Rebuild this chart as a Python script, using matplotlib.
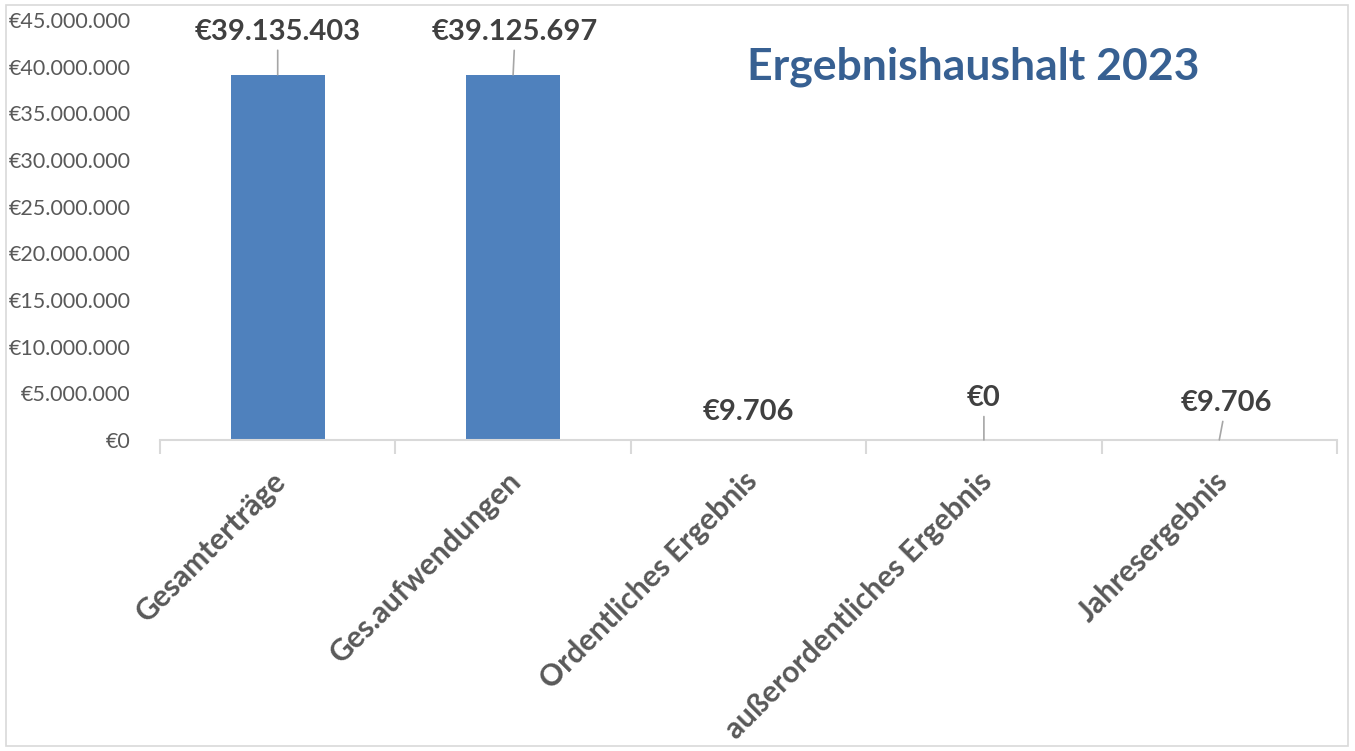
import matplotlib
matplotlib.use("Agg")
import matplotlib.pyplot as plt
from matplotlib.patches import Rectangle
from matplotlib.transforms import ScaledTranslation
from matplotlib.ticker import FuncFormatter, MultipleLocator, FixedLocator

plt.rcParams['font.family'] = ['Lato', 'DejaVu Sans']

# Daten
kategorien = ["Gesamterträge", "Ges.aufwendungen", "Ordentliches Ergebnis",
              "außerordentliches Ergebnis", "Jahresergebnis"]
werte = [39135403, 39125697, 9706, 0, 9706]
titel = "Ergebnishaushalt 2023"

# Position der Datenbeschriftungen (Pixel-Versatz) und ob eine Führungslinie gezeichnet wird
label_versatz = [(0, 43), (2, 43), (0, 28), (0, 42), (7, 37)]
fuehrungslinie = [True, True, False, True, True]

BLAU = "#4F81BD"
GRAU_TEXT = "#595959"
GRAU_LINIE = "#D9D9D9"


def euro(x, pos=None):
    return "€" + f"{int(round(x)):,}".replace(",", ".")


fig = plt.figure(figsize=(13.55, 7.51), dpi=100)
W, H = 1355, 751
ax = fig.add_axes([160 / W, 311 / H, (1337 - 160) / W, (731 - 311) / H])

x = range(len(werte))
ax.bar(x, werte, width=0.4, color=BLAU, zorder=2)

ax.set_xlim(-0.5, len(werte) - 0.5)
ax.set_ylim(0, 45000000)
ax.yaxis.set_major_locator(MultipleLocator(5000000))
ax.yaxis.set_major_formatter(FuncFormatter(euro))
ax.tick_params(axis='y', length=0, pad=21, labelsize=15.5, labelcolor=GRAU_TEXT)

for s in ["top", "right", "left"]:
    ax.spines[s].set_visible(False)
ax.spines["bottom"].set_color(GRAU_LINIE)
ax.spines["bottom"].set_linewidth(1.5)

ax.set_xticks(list(x))
ax.set_xticklabels(kategorien, rotation=45, ha='right', rotation_mode='anchor',
                   fontsize=21.5, fontweight='bold', color=GRAU_TEXT)
ax.tick_params(axis='x', which='major', length=0, pad=19)
verschiebung = ScaledTranslation(-6 / 100, 0, fig.dpi_scale_trans)
for lbl in ax.get_xticklabels():
    lbl.set_transform(lbl.get_transform() + verschiebung)
ax.xaxis.set_minor_locator(FixedLocator([i - 0.5 for i in range(len(werte) + 1)]))
ax.tick_params(axis='x', which='minor', length=10, width=1.5, color=GRAU_LINIE)

for i, v in enumerate(werte):
    dx, dy = label_versatz[i]
    props = dict(arrowstyle='-', color="#A6A6A6", lw=1.2, shrinkA=2, shrinkB=0) if fuehrungslinie[i] else None
    ax.annotate(euro(v), xy=(i, v), xytext=(dx, dy), textcoords='offset pixels',
                ha='center', va='center', fontsize=21, fontweight='bold',
                color="#404040", arrowprops=props)

fig.text(973 / W, 1 - 67 / H, titel, ha='center', va='center', fontsize=32,
         fontweight='bold', color="#376092")

fig.patches.append(Rectangle((6 / W, 5 / H), (1348 - 6) / W, (746 - 5) / H,
                             transform=fig.transFigure, fill=False,
                             edgecolor=GRAU_LINIE, linewidth=1.2))

fig.savefig("out.png", dpi=100)
